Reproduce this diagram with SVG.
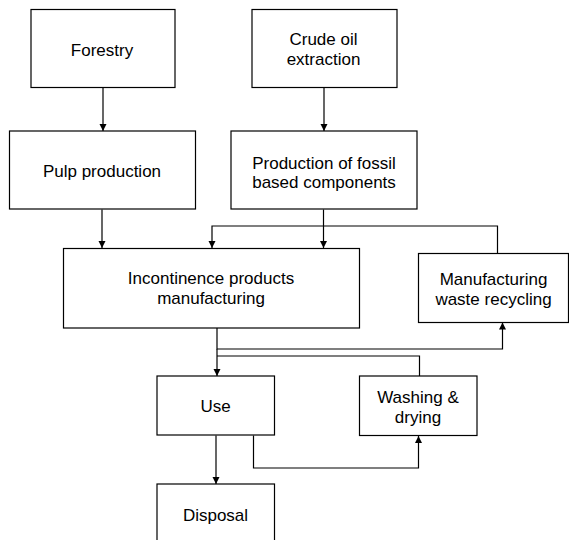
<svg xmlns="http://www.w3.org/2000/svg" width="569" height="540" viewBox="0 0 569 540">
<defs>
<marker id="ah" markerUnits="userSpaceOnUse" markerWidth="10" markerHeight="10" refX="7" refY="3.5" orient="auto">
<path d="M0,0 L7,3.5 L0,7 Z" fill="#000"/>
</marker>
<style>
.box{fill:#fff;stroke:#000;stroke-width:1.2}
.t{font-family:"Liberation Sans",Arial,sans-serif;font-size:17px;fill:#000;text-anchor:middle}
.c{fill:none;stroke:#000;stroke-width:1.2}
.a{marker-end:url(#ah)}
</style>
</defs>
<rect width="569" height="540" fill="#fff"/>
<g id="connectors">
<path class="c a" d="M103,87.5 V131"/>
<path class="c a" d="M324,87.5 V131"/>
<path class="c a" d="M102,209.5 V248"/>
<path class="c a" d="M323.5,209.5 V248"/>
<path class="c a" d="M497.5,253 V226 H212 V248"/>
<path class="c a" d="M217,328 V349 H502.5 V322.5"/>
<path class="c a" d="M217,349 V376"/>
<path class="c" d="M419.5,376 V356 H217"/>
<path class="c a" d="M253.5,435.5 V468 H418.5 V436"/>
<path class="c a" d="M216,435.5 V484"/>
</g>
<g id="forestry"><rect class="box" x="31" y="9.5" width="144" height="78"/><text class="t" x="102" y="56">Forestry</text></g>
<g id="crude"><rect class="box" x="252" y="9.5" width="145" height="78"/><text class="t" x="323.5" y="45">Crude oil</text><text class="t" x="323.5" y="65">extraction</text></g>
<g id="pulp"><rect class="box" x="9.5" y="131" width="186" height="78"/><text class="t" x="102" y="177">Pulp production</text></g>
<g id="fossil"><rect class="box" x="231" y="131" width="186" height="78"/><text class="t" x="324" y="169">Production of fossil</text><text class="t" x="324" y="188">based components</text></g>
<g id="incontinence"><rect class="box" x="63.5" y="248.5" width="296" height="79.5"/><text class="t" x="211" y="284">Incontinence products</text><text class="t" x="211" y="304">manufacturing</text></g>
<g id="recycling"><rect class="box" x="418.5" y="253.5" width="150" height="69"/><text class="t" x="493.5" y="285">Manufacturing</text><text class="t" x="493.5" y="304.5">waste recycling</text></g>
<g id="use"><rect class="box" x="157" y="376" width="117.5" height="59"/><text class="t" x="215.5" y="412">Use</text></g>
<g id="washing"><rect class="box" x="359.5" y="376" width="117.5" height="59.5"/><text class="t" x="418" y="403">Washing &amp;</text><text class="t" x="418" y="423">drying</text></g>
<g id="disposal"><rect class="box" x="157" y="484" width="117.5" height="70"/><text class="t" x="215.5" y="521">Disposal</text></g>
</svg>
